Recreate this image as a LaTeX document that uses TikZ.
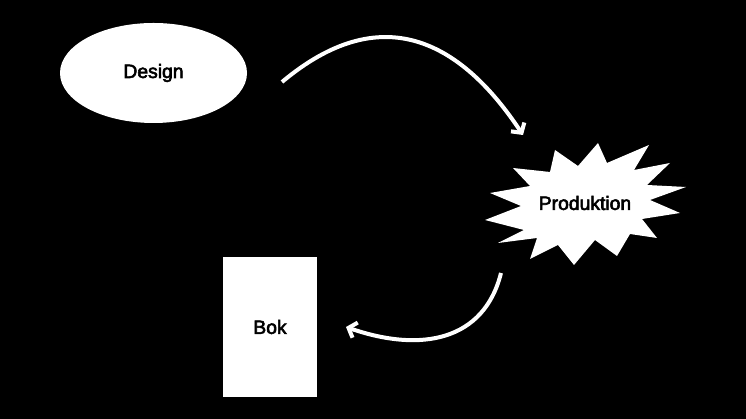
\documentclass[tikz,border=0pt]{standalone}
\usepackage{fontspec}
\setmainfont{Liberation Sans}
\newfontfamily\wordfont{Liberation Sans}[FakeBold=3]
\usetikzlibrary{shapes.geometric,arrows.meta}
\begin{document}
\begin{tikzpicture}[
  flow/.style={draw=white, line width=0.08cm, -{Straight Barb[length=0.14cm, width=0.32cm]}},
  word/.style={font=\fontsize{11}{13}\wordfont, text=black},
  card/.style={fill=white, inner sep=0}
]
\useasboundingbox (0,0) rectangle (14.92,8.38);
\fill[black] (0,0) rectangle (14.92,8.38);

\node[card, ellipse, minimum width=3.74cm, minimum height=2cm, word] (design) at (3.07,6.92) {Design};
\node[card, rectangle, minimum width=1.88cm, minimum height=2.8cm, word] (bok) at (5.40,1.84) {Bok};

\fill[white] (11.96,5.52) -- (12.14,5.12) -- (12.98,5.48) -- (12.68,4.98) -- (13.40,5.12)
  -- (12.94,4.68) -- (13.72,4.64) -- (13.00,4.38) -- (13.60,4.12) -- (12.84,4.00)
  -- (13.14,3.62) -- (12.60,3.70) -- (12.34,3.26) -- (11.90,3.58) -- (11.48,3.08)
  -- (11.16,3.48) -- (10.60,3.20) -- (10.74,3.62) -- (9.96,3.52) -- (10.48,3.78)
  -- (9.70,3.98) -- (10.42,4.26) -- (9.80,4.52) -- (10.60,4.66) -- (10.26,5.02)
  -- (11.00,4.94) -- (11.10,5.38) -- (11.56,5.06) -- cycle;
\node[word] (prod) at (11.70,4.32) {Produktion};

\coordinate (d1) at (5.64,6.74);
\coordinate (p1) at (10.46,5.68);
\coordinate (p2) at (10.02,2.92);
\coordinate (b1) at (6.92,1.84);

\draw[flow] (d1) .. controls (7.62,8.40) and (9.20,7.58) .. (p1);
\draw[flow] (p2) .. controls (9.68,1.56) and (8.42,1.32) .. (b1);

\end{tikzpicture}
\end{document}
